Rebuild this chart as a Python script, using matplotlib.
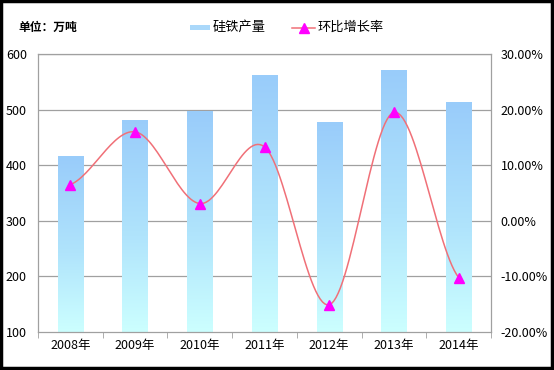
import matplotlib
matplotlib.use("Agg")

import numpy as np
import matplotlib.pyplot as plt
from matplotlib.patches import Rectangle
from matplotlib.colors import LinearSegmentedColormap
from matplotlib.ticker import FuncFormatter

plt.rcParams['font.family'] = ['Noto Sans CJK SC', 'DejaVu Sans']

# data
years = ['2008年', '2009年', '2010年', '2011年', '2012年', '2013年', '2014年']
output = [416, 482, 497, 563, 478, 571, 513]          # 万吨
growth = [6.5, 16.0, 3.1, 13.3, -15.1, 19.5, -10.2]    # %


def catmull_rom(xs, ys, n=30):
    # smooth curve through points, similar to Excel's smoothed line
    xs = np.asarray(xs, float)
    ys = np.asarray(ys, float)
    px = np.concatenate([[2 * xs[0] - xs[1]], xs, [2 * xs[-1] - xs[-2]]])
    py = np.concatenate([[ys[0]], ys, [ys[-1]]])
    outx, outy = [], []
    t = np.linspace(0, 1, n)
    for i in range(1, len(px) - 2):
        for arr, out in ((px, outx), (py, outy)):
            p0, p1, p2, p3 = arr[i - 1], arr[i], arr[i + 1], arr[i + 2]
            seg = 0.5 * ((2 * p1) + (-p0 + p2) * t
                         + (2 * p0 - 5 * p1 + 4 * p2 - p3) * t ** 2
                         + (-p0 + 3 * p1 - 3 * p2 + p3) * t ** 3)
            out.extend(seg)
    return np.array(outx), np.array(outy)


fig = plt.figure(figsize=(5.54, 3.70), dpi=100)
ax = fig.add_axes([38 / 554, 1 - 332 / 370, (491 - 38) / 554, (332 - 54) / 370])

grid_col = '#a0a0a0'
x = np.arange(len(years))
bw = 0.39
for yv in range(200, 601, 100):
    ax.axhline(yv, color=grid_col, lw=0.9, zorder=0)

cmap = LinearSegmentedColormap.from_list(
    'bar', [(0, '#ccffff'), (0.45, '#b0e4fc'), (1, '#99ccfa')])
grad = np.linspace(0, 1, 256).reshape(-1, 1)
for xi, v in zip(x, output):
    rect = Rectangle((xi - bw / 2, 100), bw, v - 100, facecolor='none',
                     edgecolor='none', zorder=2)
    ax.add_patch(rect)
    im = ax.imshow(grad, cmap=cmap, origin='lower', aspect='auto',
                   extent=(xi - bw / 2, xi + bw / 2, 100, v), zorder=2)
    im.set_clip_path(rect)
ax.set_xlim(-0.5, len(years) - 0.5)
ax.set_ylim(100, 600)
ax.set_yticks(range(100, 601, 100))

ax.set_xticks(x)
ax.set_xticklabels(years)
ax.set_xticks(np.arange(-0.5, len(years), 1), minor=True)
ax.tick_params(axis='x', which='major', length=0, pad=5, labelsize=9)
ax.tick_params(axis='x', which='minor', length=4, color=grid_col, direction='out')
ax.tick_params(axis='y', length=0, pad=8, labelsize=9)
for s in ax.spines.values():
    s.set_color(grid_col)
    s.set_linewidth(0.9)

ax2 = ax.twinx()
ax2.set_ylim(-20, 30)
ax2.set_yticks(range(-20, 31, 10))
ax2.yaxis.set_major_formatter(FuncFormatter(lambda v, p: f'{v:.2f}%'))
ax2.tick_params(axis='y', length=0, pad=7, labelsize=9)
for s in ax2.spines.values():
    s.set_visible(False)

sx, sy = catmull_rom(x, growth)
ax2.plot(sx, sy, color='#f07078', lw=1.1, zorder=3)
ax2.plot(x, growth, linestyle='none', marker='^', markersize=7,
         color='#ff00ff', zorder=4)

# unit label and legend
fig.text(18 / 554, 1 - 27 / 370, '单位：万吨', fontsize=8.5, fontweight='bold',
         va='center', ha='left')
fig.patches.append(Rectangle((190 / 554, 1 - 30 / 370), 20 / 554, 5 / 370,
                             transform=fig.transFigure, facecolor='#aad8fa',
                             edgecolor='none'))
fig.text(213 / 554, 1 - 27 / 370, '硅铁产量', fontsize=9.5, va='center', ha='left')
fig.lines.append(plt.Line2D([292 / 554, 315 / 554], [1 - 28 / 370] * 2,
                            transform=fig.transFigure, color='#f07078', lw=1.1))
fig.lines.append(plt.Line2D([303.5 / 554], [1 - 28 / 370], transform=fig.transFigure,
                            marker='^', markersize=6.5, color='#ff00ff',
                            linestyle='none'))
fig.text(318 / 554, 1 - 27 / 370, '环比增长率', fontsize=9.5, va='center', ha='left')

# black frame
fig.patches.append(Rectangle((0.002, 0.005), 0.995, 0.992, transform=fig.transFigure,
                             facecolor='none', edgecolor='black', lw=2.5))

fig.savefig('out.png', dpi=100)
